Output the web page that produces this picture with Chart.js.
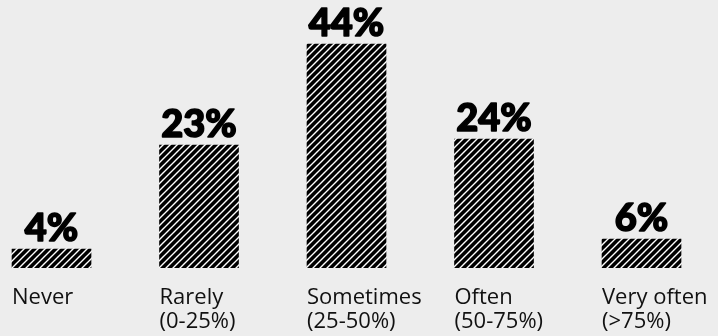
<!DOCTYPE html>
<html>
<head>
<meta charset="utf-8">
<script src="https://cdn.jsdelivr.net/npm/chart.js@4/dist/chart.umd.min.js"></script>
<style>
  html, body { margin: 0; padding: 0; background: #ededed; }
  #wrap { width: 718px; height: 336px; position: relative; }
</style>
</head>
<body>
<div id="wrap"><canvas id="c"></canvas></div>
<script>
const categories = ['Never', 'Rarely', 'Sometimes', 'Often', 'Very often'];
const ranges = ['', '(0-25%)', '(25-50%)', '(50-75%)', '(>75%)'];
const barValues = [3.73, 24.16, 44, 25.34, 5.7];
const valueLabels = ['4%', '23%', '44%', '24%', '6%'];

function makeHatch() {
  const s = 7;
  const p = document.createElement('canvas');
  p.width = s; p.height = s;
  const g = p.getContext('2d');
  g.fillStyle = '#000';
  g.fillRect(0, 0, s, s);
  g.strokeStyle = '#fff';
  g.lineWidth = 1.4;
  g.beginPath();
  g.moveTo(-1, s + 1); g.lineTo(s + 1, -1);
  g.moveTo(-1, 1); g.lineTo(1, -1);
  g.moveTo(s - 1, s + 1); g.lineTo(s + 1, s - 1);
  g.stroke();
  return g.createPattern(p, 'repeat');
}

const labelPlugin = {
  id: 'labels',
  afterDatasetsDraw(chart) {
    const ctx = chart.ctx;
    const meta = chart.getDatasetMeta(0);
    ctx.save();
    meta.data.forEach((bar, i) => {
      ctx.fillStyle = '#000';
      ctx.strokeStyle = '#000';
      ctx.lineWidth = 1.6;
      ctx.lineJoin = 'round';
      ctx.textAlign = 'center';
      ctx.textBaseline = 'alphabetic';
      ctx.font = '900 38px Lato, "DejaVu Sans", sans-serif';
      ctx.strokeText(valueLabels[i], bar.x, bar.y - 8);
      ctx.fillText(valueLabels[i], bar.x, bar.y - 8);
      const left = bar.x - bar.width / 2;
      ctx.textAlign = 'left';
      ctx.font = '400 22px "Open Sans", sans-serif';
      ctx.fillStyle = '#111';
      ctx.fillText(categories[i], left, chart.chartArea.bottom + 36);
      if (ranges[i]) ctx.fillText(ranges[i], left, chart.chartArea.bottom + 60);
    });
    ctx.restore();
  }
};

new Chart(document.getElementById('c'), {
  type: 'bar',
  data: {
    datasets: [{
      data: barValues.map((v, i) => ({ x: i, y: v })),
      backgroundColor: makeHatch(),
      borderWidth: 0,
      barThickness: 79
    }]
  },
  options: {
    responsive: true,
    maintainAspectRatio: false,
    animation: false,
    layout: { padding: { left: 0, right: 0, top: 0, bottom: 68 } },
    plugins: { legend: { display: false }, tooltip: { enabled: false } },
    scales: {
      x: { type: 'linear', display: false, offset: false, min: -0.3492, max: 4.5186 },
      y: { display: false, min: 0, max: 52.64 }
    }
  },
  plugins: [labelPlugin]
});
</script>
</body>
</html>
